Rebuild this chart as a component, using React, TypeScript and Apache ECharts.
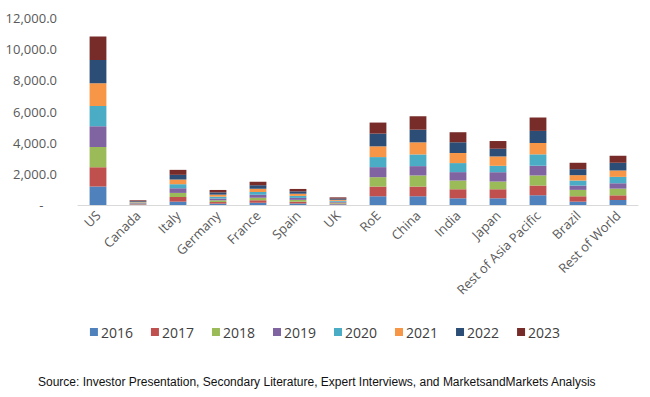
import React, { useEffect, useRef } from "react";
import * as echarts from "echarts";

const categories = ["US", "Canada", "Italy", "Germany", "France", "Spain", "UK", "RoE", "China", "India", "Japan", "Rest of Asia Pacific", "Brazil", "Rest of World"];
const years = ["2016", "2017", "2018", "2019", "2020", "2021", "2022", "2023"];
const v2016 = [1180, 25, 215, 90, 140, 100, 45, 560, 560, 430, 430, 625, 215, 320];
const v2017 = [1250, 30, 300, 100, 160, 110, 50, 625, 625, 580, 580, 625, 345, 300];
const v2018 = [1290, 35, 260, 110, 170, 120, 55, 600, 710, 560, 495, 645, 410, 430];
const v2019 = [1335, 35, 300, 115, 180, 125, 60, 645, 600, 540, 600, 625, 280, 345];
const v2020 = [1290, 40, 260, 120, 190, 130, 60, 645, 750, 580, 410, 730, 320, 410];
const v2021 = [1465, 40, 300, 130, 200, 140, 65, 690, 775, 645, 600, 730, 345, 410];
const v2022 = [1500, 45, 300, 145, 220, 150, 75, 815, 815, 690, 495, 775, 385, 495];
const v2023 = [1500, 50, 320, 155, 240, 155, 80, 710, 860, 645, 495, 860, 410, 450];
const seriesValues = [v2016, v2017, v2018, v2019, v2020, v2021, v2022, v2023];
const colors = ["#4F81BD", "#C0504D", "#9BBB59", "#8064A2", "#4BACC6", "#F79646", "#2C4D75", "#772C2A"];
const sourceText = "Source: Investor Presentation, Secondary Literature, Expert Interviews, and MarketsandMarkets Analysis";

export default function App() {
  const ref = useRef<HTMLDivElement>(null);
  useEffect(() => {
    if (!ref.current) return;
    const chart = echarts.init(ref.current, undefined, { renderer: "svg" });
    chart.setOption({
      animation: false,
      color: colors,
      grid: { left: 78, right: 12, top: 18, bottom: 192, containLabel: false },
      legend: {
        data: years,
        top: 320,
        left: "center",
        icon: "rect",
        itemWidth: 8,
        itemHeight: 8,
        itemGap: 18,
        textStyle: { fontFamily: "Open Sans", fontSize: 14, color: "#404040", padding: [0, 0, 0, -2] },
      },
      xAxis: {
        type: "category",
        data: categories,
        axisLine: { lineStyle: { color: "#D9D9D9", width: 1 } },
        axisTick: { show: false },
        axisLabel: { rotate: 45, interval: 0, fontFamily: "Open Sans", fontSize: 13, color: "#595959", margin: 8 },
      },
      yAxis: {
        type: "value",
        min: 0,
        max: 12000,
        interval: 2000,
        axisLine: { show: false },
        axisTick: { show: false },
        splitLine: { show: false },
        axisLabel: {
          fontFamily: "Open Sans",
          fontSize: 13,
          color: "#595959",
          margin: 21,
          formatter: (v: number) =>
            v === 0 ? "-    " : v.toLocaleString("en-US", { minimumFractionDigits: 1, maximumFractionDigits: 1 }),
        },
      },
      series: years.map((y, i) => ({
        name: y,
        type: "bar",
        stack: "total",
        barWidth: "42%",
        data: seriesValues[i],
        itemStyle: { color: colors[i] },
      })),
      graphic: [
        {
          type: "text",
          left: 38,
          top: 376,
          style: { text: sourceText, font: "12px 'Liberation Sans', Arial, sans-serif", fill: "#111" },
        },
      ],
    });
    return () => chart.dispose();
  }, []);
  return <div ref={ref} style={{ position: "fixed", left: 0, top: 0, width: 650, height: 397, background: "#fff" }} />;
}
